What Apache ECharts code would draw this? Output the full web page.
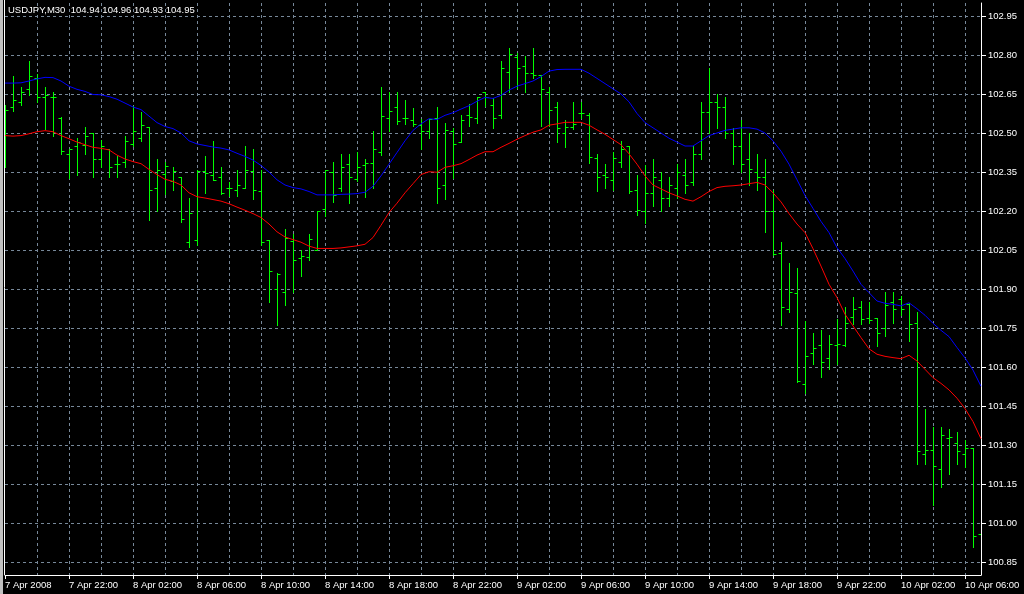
<!DOCTYPE html>
<html>
<head>
<meta charset="utf-8">
<script src="https://cdn.jsdelivr.net/npm/echarts@6/dist/echarts.min.js"></script>
<style>
html,body{margin:0;padding:0;background:#000;}
#chart{width:1024px;height:594px;}
</style>
</head>
<body>
<div id="chart"></div>
<script>
// ---- data (USDJPY M30, bars from 7 Apr 2008 18:00, 30-minute steps) ----
const startTime = Date.UTC(2008, 3, 7, 18, 0);
const barCount = 123;
const tickLabels = ["7 Apr 2008","7 Apr 22:00","8 Apr 02:00","8 Apr 06:00","8 Apr 10:00","8 Apr 14:00","8 Apr 18:00","8 Apr 22:00","9 Apr 02:00","9 Apr 06:00","9 Apr 10:00","9 Apr 14:00","9 Apr 18:00","9 Apr 22:00","10 Apr 02:00","10 Apr 06:00"];
const priceTicks = {min: 100.85, max: 102.95, step: 0.15};
const titleText = "USDJPY,M30  104.94 104.96 104.93 104.95";

const opens = [102.58,102.600,102.619,102.669,102.713,102.638,102.64,102.558,102.419,102.451,
102.455,102.499,102.400,102.438,102.381,102.388,102.458,102.481,102.522,102.288,
102.342,102.317,102.331,102.081,102.090,102.353,102.337,102.331,102.288,102.282,
102.288,102.353,102.276,102.090,101.900,101.888,102.086,102.019,102.022,102.051,
102.208,102.349,102.287,102.381,102.323,102.377,102.383,102.428,102.556,102.599,
102.556,102.550,102.531,102.509,102.556,102.300,102.509,102.467,102.569,102.556,
102.659,102.608,102.569,102.736,102.794,102.758,102.729,102.723,102.659,102.599,
102.501,102.524,102.578,102.569,102.403,102.338,102.319,102.387,102.450,102.281,
102.200,102.27,102.32,102.25,102.29,102.34,102.31,102.42,102.58,102.62,
102.60,102.50,102.45,102.40,102.35,102.33,102.20,102.040,101.822,101.883,
101.533,101.653,101.683,101.633,101.683,101.683,101.794,101.832,101.790,101.790,
101.751,101.851,101.860,101.841,101.770,101.267,101.280,101.209,101.327,101.309,
101.267,101.290,100.959];
const highs = [102.609,102.720,102.677,102.778,102.727,102.677,102.658,102.560,102.438,102.481,
102.522,102.499,102.473,102.438,102.410,102.490,102.603,102.579,102.522,102.400,
102.387,102.368,102.331,102.250,102.356,102.410,102.471,102.369,102.310,102.356,
102.451,102.438,102.359,102.090,101.962,102.132,102.112,102.051,102.112,102.201,
102.359,102.387,102.419,102.419,102.426,102.399,102.508,102.676,102.656,102.656,
102.627,102.597,102.553,102.553,102.599,102.540,102.521,102.569,102.612,102.640,
102.659,102.633,102.777,102.826,102.809,102.797,102.826,102.723,102.678,102.621,
102.550,102.621,102.621,102.576,102.419,102.381,102.426,102.469,102.450,102.338,
102.377,102.40,102.35,102.33,102.38,102.40,102.45,102.62,102.75,102.65,
102.64,102.52,102.55,102.50,102.42,102.40,102.28,102.082,102.001,101.982,
101.777,101.732,101.741,101.722,101.783,101.832,101.870,101.854,101.850,101.790,
101.890,101.890,101.873,101.845,101.812,101.440,101.369,101.369,101.360,101.350,
101.318,101.290,101.110];
const lows = [102.368,102.586,102.606,102.647,102.619,102.517,102.488,102.419,102.327,102.337,
102.419,102.329,102.368,102.329,102.329,102.368,102.449,102.471,102.167,102.199,
102.265,102.282,102.156,102.060,102.068,102.269,102.318,102.265,102.256,102.256,
102.288,102.247,102.070,101.850,101.760,101.837,101.888,101.949,102.013,102.051,
102.180,102.236,102.277,102.229,102.317,102.255,102.287,102.415,102.509,102.535,
102.535,102.528,102.437,102.480,102.229,102.247,102.326,102.467,102.527,102.540,
102.604,102.518,102.556,102.656,102.672,102.656,102.713,102.528,102.528,102.467,
102.447,102.514,102.556,102.386,102.278,102.287,102.281,102.368,102.268,102.185,
102.155,102.22,102.20,102.22,102.25,102.27,102.30,102.40,102.50,102.52,
102.48,102.38,102.35,102.30,102.28,102.12,102.030,101.762,101.813,101.544,
101.499,101.610,101.562,101.594,101.613,101.681,101.764,101.767,101.770,101.681,
101.719,101.768,101.799,101.700,101.226,101.226,101.068,101.138,101.187,101.226,
101.215,100.908,100.927];
const closes = [102.588,102.627,102.658,102.721,102.638,102.645,102.638,102.429,102.438,102.464,
102.490,102.400,102.451,102.369,102.381,102.468,102.508,102.529,102.282,102.359,
102.372,102.353,102.169,102.191,102.353,102.346,102.318,102.269,102.288,102.301,
102.359,102.282,102.081,101.968,101.959,102.096,102.013,102.028,102.094,102.201,
102.359,102.262,102.371,102.332,102.371,102.383,102.438,102.567,102.586,102.547,
102.556,102.535,102.508,102.553,102.287,102.512,102.456,102.550,102.560,102.640,
102.640,102.556,102.749,102.804,102.749,102.729,102.723,102.668,102.588,102.518,
102.522,102.533,102.578,102.406,102.332,102.332,102.403,102.438,102.278,102.204,
102.270,102.33,102.25,102.30,102.35,102.30,102.42,102.58,102.62,102.60,
102.50,102.45,102.38,102.36,102.33,102.20,102.033,101.832,101.890,101.546,
101.642,101.672,101.620,101.690,101.690,101.770,101.822,101.783,101.781,101.732,
101.838,101.822,101.822,101.764,101.278,101.279,101.219,101.340,101.330,101.277,
101.290,100.950,100.959];
const maBlue = [102.692,102.692,102.693,102.700,102.708,102.714,102.713,102.700,102.680,102.668,
102.660,102.648,102.647,102.640,102.630,102.615,102.600,102.590,102.565,102.540,
102.525,102.517,102.500,102.470,102.458,102.452,102.446,102.442,102.435,102.422,
102.410,102.396,102.375,102.350,102.320,102.300,102.290,102.285,102.275,102.262,
102.262,102.262,102.264,102.265,102.267,102.272,102.295,102.335,102.380,102.425,
102.470,102.510,102.535,102.555,102.552,102.568,102.578,102.592,102.605,102.622,
102.637,102.633,102.645,102.665,102.680,102.690,102.700,102.717,102.738,102.744,
102.745,102.745,102.745,102.730,102.710,102.690,102.670,102.650,102.620,102.575,
102.540,102.52,102.50,102.48,102.465,102.45,102.45,102.47,102.49,102.50,
102.51,102.515,102.52,102.52,102.515,102.50,102.47,102.43,102.38,102.32,
102.26,102.21,102.16,102.117,102.059,102.017,101.969,101.918,101.886,101.854,
101.845,101.841,101.835,101.847,101.824,101.799,101.768,101.741,101.717,101.675,
101.635,101.588,101.526];
const maRed = [102.490,102.488,102.490,102.497,102.505,102.509,102.505,102.490,102.478,102.465,
102.455,102.445,102.441,102.435,102.415,102.400,102.390,102.382,102.360,102.340,
102.322,102.314,102.300,102.270,102.255,102.250,102.244,102.238,102.228,102.215,
102.203,102.190,102.175,102.150,102.120,102.100,102.090,102.080,102.065,102.056,
102.056,102.056,102.058,102.062,102.066,102.072,102.098,102.145,102.194,102.230,
102.270,102.305,102.340,102.351,102.349,102.368,102.374,102.382,102.398,102.415,
102.428,102.428,102.445,102.460,102.476,102.490,102.503,102.512,102.530,102.535,
102.541,102.541,102.541,102.530,102.512,102.495,102.475,102.455,102.420,102.380,
102.335,102.30,102.285,102.27,102.258,102.245,102.238,102.255,102.275,102.29,
102.295,102.297,102.30,102.305,102.31,102.30,102.27,102.235,102.19,102.15,
102.117,102.055,101.988,101.918,101.867,101.803,101.758,101.713,101.670,101.649,
101.641,101.636,101.632,101.645,101.623,101.591,101.559,101.537,101.512,101.480,
101.440,101.390,101.324];

// ---- build categories ----
const months = ["Jan","Feb","Mar","Apr","May","Jun","Jul","Aug","Sep","Oct","Nov","Dec"];
const categories = [];
for (let i = 0; i < barCount; i++) {
  const d = new Date(startTime + i * 30 * 60000);
  const hh = String(d.getUTCHours()).padStart(2, "0");
  const mm = String(d.getUTCMinutes()).padStart(2, "0");
  categories.push(d.getUTCDate() + " " + months[d.getUTCMonth()] + " " + hh + ":" + mm);
}
const ohlc = opens.map((o, i) => [i, o, highs[i], lows[i], closes[i]]);

const FONT = "'Liberation Sans', Arial, sans-serif";
const FONT_SIZE = 9.5;
const GRID_COLOR = "#778899";
const TEXT_COLOR = "#ffffff";

const chart = echarts.init(document.getElementById("chart"), null, {renderer: "canvas"});

function renderBar(params, api) {
  const idx = api.value(0);
  const pO = api.coord([idx, api.value(1)]);
  const pH = api.coord([idx, api.value(2)]);
  const pL = api.coord([idx, api.value(3)]);
  const pC = api.coord([idx, api.value(4)]);
  const x = Math.round(pH[0]) + 0.5;
  const yH = Math.round(pH[1]) + 0.5;
  const yL = Math.round(pL[1]) + 0.5;
  const yO = Math.round(pO[1]) + 0.5;
  const yC = Math.round(pC[1]) + 0.5;
  const style = {stroke: "#00ff00", lineWidth: 1};
  return {
    type: "group",
    children: [
      {type: "line", shape: {x1: x, y1: yH - 0.5, x2: x, y2: yL + 0.5}, style: style},
      {type: "line", shape: {x1: x - 3, y1: yO, x2: x - 0.5, y2: yO}, style: style},
      {type: "line", shape: {x1: x + 0.5, y1: yC, x2: x + 3, y2: yC}, style: style}
    ]
  };
}

const option = {
  backgroundColor: "#000000",
  animation: false,
  title: {
    text: titleText,
    left: 8, top: 5, padding: 0,
    textStyle: {color: TEXT_COLOR, fontSize: FONT_SIZE, fontWeight: "normal", fontFamily: FONT}
  },
  grid: [
    {left: 5, right: 43, top: 3, bottom: 19, show: false},
    {left: 5, right: 43, top: 16, bottom: 32, show: false}
  ],
  xAxis: [
    {
      type: "category", gridIndex: 0, data: categories, boundaryGap: false,
      axisLine: {show: true, lineStyle: {color: "#ffffff", width: 1}},
      axisTick: {show: true, length: 4, lineStyle: {color: "#ffffff"},
        interval: function (i) { return i % 8 === 0; }},
      axisLabel: {
        show: true, color: TEXT_COLOR, fontSize: FONT_SIZE, fontFamily: FONT, align: "left", margin: 5,
        interval: function (i) { return i % 8 === 0; },
        formatter: function (v, i) { return tickLabels[i / 8] || ""; }
      },
      splitLine: {show: true, interval: function (i) { return i % 4 === 0 && i > 0; },
        lineStyle: {color: GRID_COLOR, type: [3, 3], width: 1}}
    },
    {type: "category", gridIndex: 1, data: categories, boundaryGap: false, show: false}
  ],
  yAxis: [
    {
      type: "value", gridIndex: 0, position: "right", min: 100.80, max: 103.00,
      axisLine: {show: true, lineStyle: {color: "#ffffff", width: 1}},
      axisTick: {show: false}, axisLabel: {show: false}, splitLine: {show: false}
    },
    {
      type: "value", gridIndex: 1, position: "right",
      min: priceTicks.min, max: priceTicks.max, interval: priceTicks.step,
      axisLine: {show: false},
      axisTick: {show: true, inside: false, length: 5, lineStyle: {color: "#ffffff"}},
      axisLabel: {show: true, color: TEXT_COLOR, fontSize: FONT_SIZE, fontFamily: FONT, margin: 7,
        formatter: function (v) { return v.toFixed(2); }},
      splitLine: {show: true, lineStyle: {color: GRID_COLOR, type: [3, 3], width: 1}}
    }
  ],
  series: [
    {
      type: "custom", name: "USDJPY", xAxisIndex: 0, yAxisIndex: 0,
      renderItem: renderBar, data: ohlc, clip: true,
      encode: {x: 0, y: [1, 2, 3, 4]}, z: 3
    },
    {
      type: "line", name: "MA blue", xAxisIndex: 0, yAxisIndex: 0, data: maBlue,
      showSymbol: false, symbol: "none", lineStyle: {color: "#0000ff", width: 1}, z: 4
    },
    {
      type: "line", name: "MA red", xAxisIndex: 0, yAxisIndex: 0, data: maRed,
      showSymbol: false, symbol: "none", lineStyle: {color: "#ff0000", width: 1}, z: 4
    }
  ],
  graphic: [
    {type: "rect", left: 0, top: 0, shape: {width: 3, height: 594}, style: {fill: "#c0c0c0"}, silent: true},
    {type: "line", shape: {x1: 4.5, y1: 0, x2: 4.5, y2: 575}, style: {stroke: "#ffffff", lineWidth: 1}, silent: true}
  ]
};
chart.setOption(option);
</script>
</body>
</html>
